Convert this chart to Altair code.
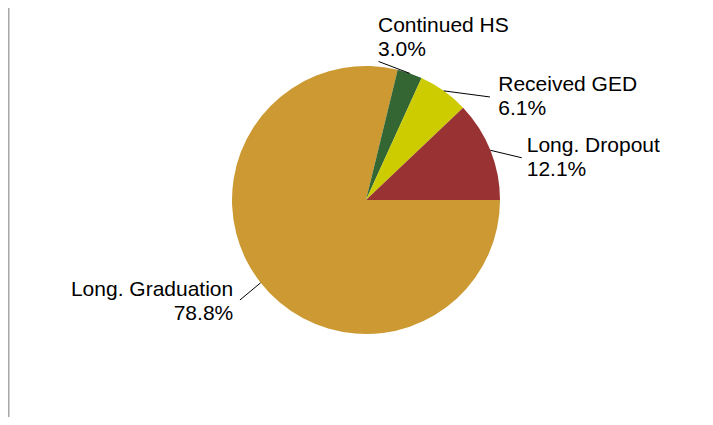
import math
import altair as alt
import pandas as pd

# ---- data ----
categories = ["Long. Graduation", "Continued HS", "Received GED", "Long. Dropout"]
values = [78.8, 3.0, 6.1, 12.1]
colors = ["#CC9933", "#336633", "#CCCC00", "#993333"]

# ---- layout (pixels, chart coordinates) ----
W, H = 690, 409
CX, CY, R = 358, 192, 134
# per-label leader end offset and text offset, relative to the slice's edge point
label_layout = {
    "Long. Graduation": (-20.7, 17.2, -27.4, 12.9, "right"),
    "Continued HS": (-31.3, -11.9, -31.8, -41.7, "left"),
    "Received GED": (46.2, 6.1, 54.5, -0.2, "left"),
    "Long. Dropout": (31.3, 7.5, 36.3, 1.5, "left"),
}

df = pd.DataFrame({"category": categories, "value": values, "idx": list(range(len(categories)))})
df["ldx"] = [label_layout[c][0] for c in categories]
df["ldy"] = [label_layout[c][1] for c in categories]
df["tdx"] = [label_layout[c][2] for c in categories]
df["tdy"] = [label_layout[c][3] for c in categories]
df["align"] = [label_layout[c][4] for c in categories]

base = alt.Chart(df)

pie = base.mark_arc(radius=R).encode(
    theta=alt.Theta("value:Q", stack=True,
                    scale=alt.Scale(range=[math.pi / 2, math.pi / 2 + 2 * math.pi])),
    color=alt.Color("category:N", scale=alt.Scale(domain=categories, range=colors), legend=None),
    order=alt.Order("idx:Q"),
    x=alt.value(CX),
    y=alt.value(CY),
)

geo = (
    base.transform_joinaggregate(total="sum(value)")
    .transform_window(cum="sum(value)", sort=[alt.SortField("idx")], frame=[None, 0])
    .transform_calculate(ang="PI/2 + 2*PI*(datum.cum - datum.value/2)/datum.total")
    .transform_calculate(ex=f"{CX} + {R}*sin(datum.ang)", ey=f"{CY} - {R}*cos(datum.ang)")
    .transform_calculate(
        lx="datum.ex + datum.ldx",
        ly="datum.ey + datum.ldy",
        tx="datum.ex + datum.tdx",
        ty="datum.ey + datum.tdy",
        label="datum.category + '\\n' + format(datum.value, '.1f') + '%'",
    )
)

leaders = geo.mark_rule(color="black", strokeWidth=1).encode(
    x=alt.X("ex:Q", scale=None),
    y=alt.Y("ey:Q", scale=None),
    x2="lx:Q",
    y2="ly:Q",
)

text_kw = dict(baseline="alphabetic", fontSize=21, font="Liberation Sans",
               lineHeight=24, lineBreak="\n", color="black")

labels_left = geo.transform_filter("datum.align == 'left'").mark_text(align="left", **text_kw).encode(
    x=alt.X("tx:Q", scale=None), y=alt.Y("ty:Q", scale=None), text="label:N"
)
labels_right = geo.transform_filter("datum.align == 'right'").mark_text(align="right", **text_kw).encode(
    x=alt.X("tx:Q", scale=None), y=alt.Y("ty:Q", scale=None), text="label:N"
)

border = alt.Chart(pd.DataFrame({"a": [0]})).mark_rule(color="#A6A6A6", strokeWidth=1.5).encode(
    x=alt.value(0.75), y=alt.value(0), y2=alt.value(H)
)

chart = (
    alt.layer(pie, leaders, labels_left, labels_right, border)
    .properties(width=W, height=H, padding=0, autosize=alt.AutoSizeParams(type="none"))
    .configure_view(strokeWidth=0)
)

chart.save("out.html", embed_options={"renderer": "svg", "actions": False})
